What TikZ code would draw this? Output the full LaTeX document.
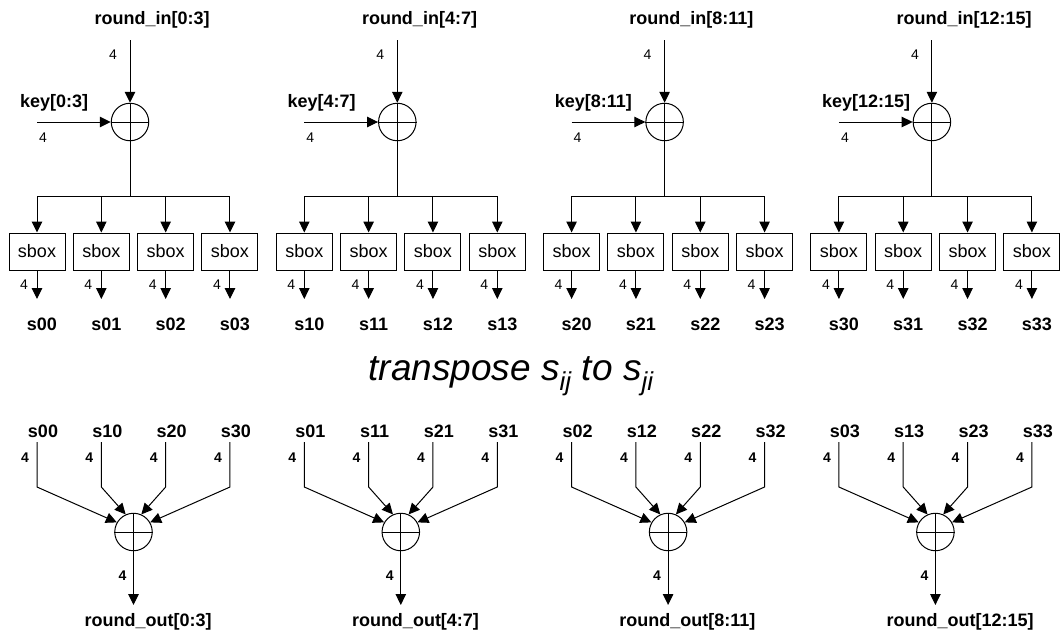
\documentclass[tikz,border=0pt]{standalone}
\usepackage{fontspec}
\setmainfont{Liberation Sans}
\usetikzlibrary{arrows.meta}
\begin{document}
\begin{tikzpicture}[x=1pt,y=-1pt,
  wire/.style={line width=1pt},
  arr/.style={wire,-{Triangle[length=11pt,width=10.5pt]}},
  xorgate/.style={circle,draw,line width=1pt,minimum size=37.5pt,inner sep=0pt},
  sboxnode/.style={draw,line width=1pt,minimum width=56pt,minimum height=37pt,inner sep=0pt,font=\fontsize{18}{20}\selectfont},
  lbl/.style={font=\fontsize{18}{20}\selectfont\bfseries,inner sep=0pt},
  wlbl/.style={font=\fontsize{14}{15}\selectfont,inner sep=0pt},
  wlblb/.style={font=\fontsize{14}{15}\selectfont\bfseries,inner sep=0pt},
  bigtxt/.style={font=\fontsize{37}{40}\selectfont\itshape,inner sep=0pt}
]
\useasboundingbox (0,0) rectangle (1061,635);
\foreach \k/\r in {0/0:3,1/4:7,2/8:11,3/12:15}{
  \pgfmathsetmacro\bx{37+267.3*\k}
  % top stage
  \node[xorgate] (xt\k) at (\bx+93,122) {};
  \draw[wire] (xt\k.north) -- (xt\k.south) (xt\k.west) -- (xt\k.east);
  \node[lbl,anchor=west] (rin\k) at (\bx+57.5,20) {round\_in[\r]};
  \coordinate (ri\k) at (\bx+93,40);
  \draw[arr] (ri\k) -- (xt\k.north);
  \node[wlbl] (rinw\k) at (\bx+76,55) {4};
  \node[lbl,anchor=west] (key\k) at (\bx-17,103) {key[\r]};
  \coordinate (ki\k) at (\bx,122);
  \draw[arr] (ki\k) -- (xt\k.west);
  \node[wlbl] (keyw\k) at (\bx+6,138) {4};
  \coordinate (br\k) at (\bx+93,196);
  \draw[wire] (xt\k.south) -- (br\k);
  \foreach \j in {0,...,3}{
    \node[sboxnode] (sb\k\j) at (\bx+64.33*\j,251.5) {sbox};
    \draw[arr] (br\k) -| (sb\k\j.north);
    \coordinate (so\k\j) at (\bx+64.33*\j,299);
    \draw[arr] (sb\k\j.south) -- (so\k\j);
    \node[wlbl] (sow\k\j) at (\bx+64.33*\j-13,285) {4};
    \node[lbl] (sl\k\j) at (\bx+64.33*\j+5,324) {s\k\j};
  }
  % bottom stage
  \node[xorgate] (xb\k) at (\bx+96.5,532) {};
  \draw[wire] (xb\k.north) -- (xb\k.south) (xb\k.west) -- (xb\k.east);
  \foreach \j/\ang in {0/150,1/114,2/66,3/30}{
    \node[lbl] (bl\k\j) at (\bx+64.33*\j+6,431) {s\j\k};
    \coordinate (bt\k\j) at (\bx+64.33*\j,442);
    \coordinate (bb\k\j) at (\bx+64.33*\j,487);
    \draw[arr] (bt\k\j) -- (bb\k\j) -- (xb\k.\ang);
    \node[wlblb] (bw\k\j) at (\bx+64.33*\j-12,458) {4};
  }
  \coordinate (bo\k) at (\bx+96.5,605);
  \draw[arr] (xb\k.south) -- (bo\k);
  \node[wlblb] (bow\k) at (\bx+85.5,576) {4};
  \node[lbl,anchor=west] (rout\k) at (\bx+47.5,622) {round\_out[\r]};
}
\node[bigtxt,anchor=base] (tr) at (511,380) {transpose s\textsubscript{ij} to s\textsubscript{ji}};
\end{tikzpicture}
\end{document}
